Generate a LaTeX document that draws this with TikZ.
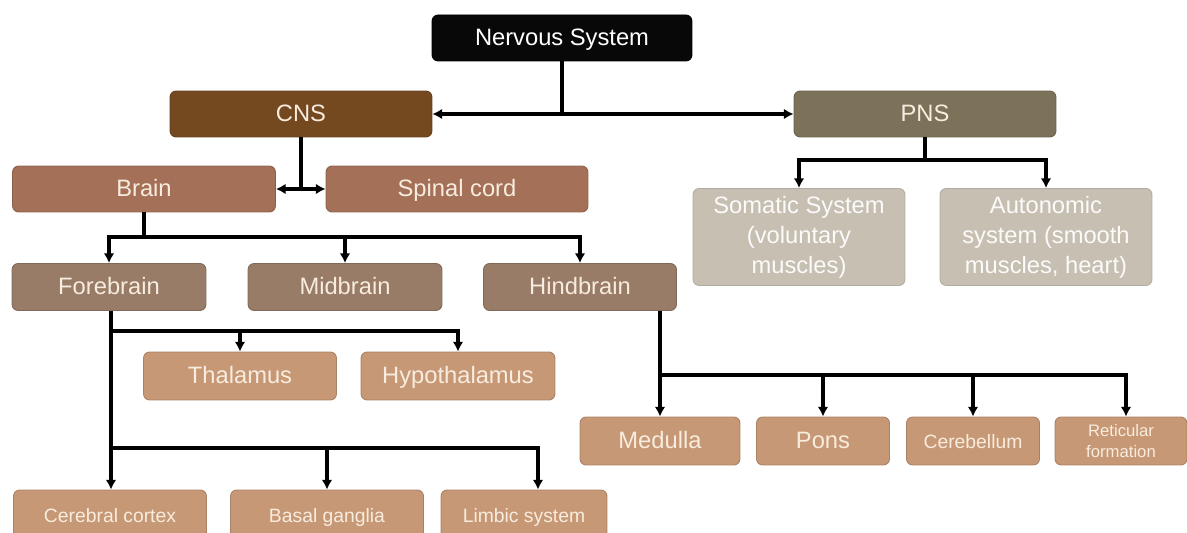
\documentclass[tikz,border=0pt]{standalone}
\usepackage{fontspec}
\setsansfont{Liberation Sans}
\usetikzlibrary{arrows.meta}

\definecolor{nsblack}{RGB}{8,8,8}
\definecolor{cnsbrown}{RGB}{117,73,32}
\definecolor{pnsolive}{RGB}{123,114,89}
\definecolor{brainbrown}{RGB}{164,113,88}
\definecolor{partbrown}{RGB}{152,124,104}
\definecolor{subtan}{RGB}{199,152,118}
\definecolor{pnsgray}{RGB}{198,191,178}
\definecolor{cream}{RGB}{248,236,222}

\begin{document}
\begin{tikzpicture}[x=0.02cm, y=-0.02cm]

    % Define styles
    \tikzset{
        box/.style={rounded corners=3.5pt, line width=0.5pt, align=center,
            font=\sffamily\fontsize{13.5}{16}\selectfont, text=cream, inner sep=2pt},
        one line/.style={text height=0.9em, text depth=0.02em},
        top box/.style={box, one line, fill=nsblack, draw=black, text=white},
        cns box/.style={box, one line, fill=cnsbrown, draw=cnsbrown!85!black},
        pns box/.style={box, one line, fill=pnsolive, draw=pnsolive!85!black},
        brain box/.style={box, one line, fill=brainbrown, draw=brainbrown!85!black},
        part box/.style={box, one line, fill=partbrown, draw=partbrown!85!black},
        sub box/.style={box, fill=subtan, draw=subtan!85!black},
        nerve box/.style={box, fill=pnsgray, draw=pnsgray!90!black, text=white!94!pnsgray,
            font=\sffamily\fontsize{13.5}{17}\selectfont},
        small/.style={font=\sffamily\fontsize{11}{13}\selectfont},
        link/.style={line width=1.75pt, draw=black},
        arrow/.style={link, -{Latex[length=5.5pt,width=6pt]}},
        twoway/.style={link, {Latex[length=5.5pt,width=6pt]}-{Latex[length=5.5pt,width=6pt]}}
    }

    % Picture frame
    \useasboundingbox (0,0) rectangle (1187,533);
    \clip (0,0) rectangle (1187,533);

    % Top level
    \node[top box, minimum width=5.2cm, minimum height=0.92cm] (nervous) at (562,38) {Nervous System};
    \node[cns box, minimum width=5.24cm, minimum height=0.92cm] (cns) at (301,114) {CNS};
    \node[pns box, minimum width=5.24cm, minimum height=0.92cm] (pns) at (925,114) {PNS};

    % Central nervous system
    \node[brain box, minimum width=5.26cm, minimum height=0.92cm] (brain) at (144,189) {Brain};
    \node[brain box, minimum width=5.24cm, minimum height=0.92cm] (spinal) at (457,189) {Spinal cord};

    % Peripheral nervous system
    \node[nerve box, minimum width=4.24cm, minimum height=1.94cm] (somatic) at (799,237)
        {Somatic System\\(voluntary\\muscles)};
    \node[nerve box, minimum width=4.24cm, minimum height=1.94cm] (autonomic) at (1046,237)
        {Autonomic\\system (smooth\\muscles, heart)};

    % Parts of the brain
    \node[part box, minimum width=3.88cm, minimum height=0.94cm] (fore) at (109,287) {Forebrain};
    \node[part box, minimum width=3.88cm, minimum height=0.94cm] (mid) at (345,287) {Midbrain};
    \node[part box, minimum width=3.86cm, minimum height=0.94cm] (hind) at (580,287) {Hindbrain};

    % Forebrain
    \node[sub box, one line, minimum width=3.86cm, minimum height=0.96cm] (thal) at (240,376) {Thalamus};
    \node[sub box, one line, minimum width=3.88cm, minimum height=0.96cm] (hypo) at (458,376) {Hypothalamus};
    \node[sub box, small, one line, minimum width=3.86cm, minimum height=1cm] (cortex) at (110,515) {Cerebral cortex};
    \node[sub box, small, one line, minimum width=3.86cm, minimum height=1cm] (basal) at (327,515) {Basal ganglia};
    \node[sub box, small, one line, minimum width=3.32cm, minimum height=1cm] (limbic) at (524,515) {Limbic system};

    % Hindbrain
    \node[sub box, one line, minimum width=3.2cm, minimum height=0.96cm] (medulla) at (660,441) {Medulla};
    \node[sub box, one line, minimum width=2.66cm, minimum height=0.96cm] (pons) at (823,441) {Pons};
    \node[sub box, small, one line, minimum width=2.66cm, minimum height=0.96cm] (cerebellum) at (973,441) {Cerebellum};
    \node[sub box, font=\sffamily\fontsize{9.5}{11.5}\selectfont, minimum width=2.64cm,
        minimum height=0.96cm] (reticular) at (1121,441) {Reticular\\formation};

    % Junction points
    \coordinate (nsbar) at (nervous.south |- cns.east);
    \coordinate (cnsbar) at (cns.south |- brain.east);
    \coordinate (pnsbar) at (925,160);
    \coordinate (brainbar) at (144,237);
    \coordinate (forebar) at (111,331);
    \coordinate (forebarlow) at (111,448);
    \coordinate (hindbar) at (660,375);

    % Nervous system split
    \draw[link] (nervous.south) -- (nsbar);
    \draw[twoway] (cns.east) -- (pns.west);

    % CNS split
    \draw[link] (cns.south) -- (cnsbar);
    \draw[twoway] (brain.east) -- (spinal.west);

    % PNS split
    \draw[link] (pns.south) -- (pnsbar);
    \draw[arrow] (pnsbar) -| (somatic.north);
    \draw[arrow] (pnsbar) -| (autonomic.north);

    % Brain split
    \draw[link] (brain.south) -- (brainbar);
    \draw[arrow] (brainbar) -| (fore.north);
    \draw[arrow] (brainbar) -| (mid.north);
    \draw[arrow] (brainbar) -| (hind.north);

    % Forebrain split
    \draw[arrow] (forebar |- fore.south) -- (forebar |- cortex.north);
    \draw[arrow] (forebar) -| (thal.north);
    \draw[arrow] (forebar) -| (hypo.north);
    \draw[arrow] (forebarlow) -| (basal.north);
    \draw[arrow] (forebarlow) -| ([xshift=0.28cm]limbic.north);

    % Hindbrain split
    \draw[arrow] (medulla.north |- hind.south) -- (medulla.north);
    \draw[arrow] (hindbar) -| (pons.north);
    \draw[arrow] (hindbar) -| (cerebellum.north);
    \draw[arrow] (hindbar) -| ([xshift=0.1cm]reticular.north);

\end{tikzpicture}
\end{document}
